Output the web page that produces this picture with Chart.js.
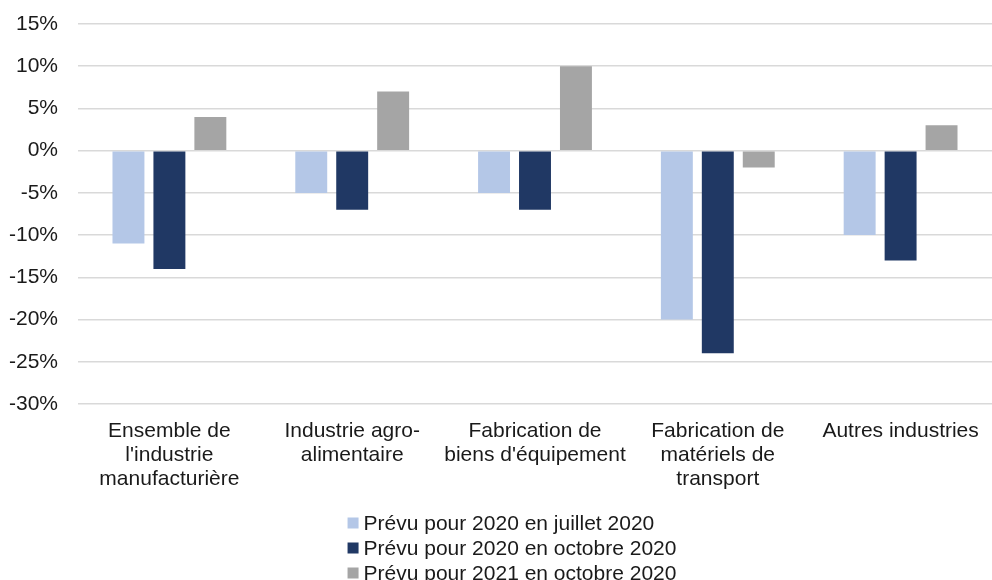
<!DOCTYPE html>
<html>
<head>
<meta charset="utf-8">
<script src="https://cdn.jsdelivr.net/npm/chart.js@4/dist/chart.umd.min.js"></script>
<style>
  html, body { margin: 0; padding: 0; background: #fff; }
  #wrap { width: 992px; height: 580px; position: relative; }
</style>
</head>
<body>
<div id="wrap"><canvas id="barChart"></canvas></div>
<script>
// categories (multi-line labels as in the source)
var categories = [
    ['Ensemble de', "l'industrie", 'manufacturière'],
    ['Industrie agro-', 'alimentaire'],
    ['Fabrication de', "biens d'équipement"],
    ['Fabrication de', 'matériels de', 'transport'],
    ['Autres industries']
];
var seriesNames = [
    'Prévu pour 2020 en juillet 2020',
    'Prévu pour 2020 en octobre 2020',
    'Prévu pour 2021 en octobre 2020'
];
var juillet2020 = [-11, -5, -5, -20, -10];
var octobre2020 = [-14, -7, -7, -24, -13];
var octobre2021 = [4, 7, 10, -2, 3];
var colors = ['#B4C7E7', '#203864', '#A5A5A5'];

var FONT = '"Liberation Sans", Arial, sans-serif';

// vertical legend drawn under the axis
var stackedLegend = {
    id: 'stackedLegend',
    afterDraw: function (chart) {
        var c = chart.ctx;
        var sets = chart.data.datasets;
        c.save();
        c.font = '21px ' + FONT;
        var maxW = 0;
        sets.forEach(function (d) { maxW = Math.max(maxW, c.measureText(d.label).width); });
        var box = 11, gap = 5;
        var left = 512 - (box + gap + maxW) / 2;
        var y0 = 523, lh = 25;
        c.textBaseline = 'middle';
        c.textAlign = 'left';
        sets.forEach(function (d, i) {
            var y = y0 + i * lh;
            c.fillStyle = d.backgroundColor;
            c.fillRect(left, y - box / 2, box, box);
            c.fillStyle = '#1a1a1a';
            c.fillText(d.label, left + box + gap, y + 1);
        });
        c.restore();
    }
};

var ctx = document.getElementById('barChart').getContext('2d');
var myChart = new Chart(ctx, {
    type: 'bar',
    data: {
        labels: categories,
        datasets: [
            { label: seriesNames[0], data: juillet2020, backgroundColor: colors[0] },
            { label: seriesNames[1], data: octobre2020, backgroundColor: colors[1] },
            { label: seriesNames[2], data: octobre2021, backgroundColor: colors[2] }
        ]
    },
    options: {
        responsive: true,
        maintainAspectRatio: false,
        animation: false,
        categoryPercentage: 0.672,
        barPercentage: 0.78,
        layout: { padding: { top: 24, right: 0, left: 0, bottom: 0 } },
        plugins: {
            legend: { display: false },
            tooltip: { enabled: false }
        },
        scales: {
            x: {
                grid: { display: false },
                border: { display: false },
                ticks: {
                    color: '#1a1a1a',
                    font: { family: FONT, size: 21, lineHeight: 1.15 },
                    padding: 7,
                    maxRotation: 0,
                    autoSkip: false
                },
                afterFit: function (scale) { scale.height = 176; }
            },
            y: {
                min: -30,
                max: 15,
                grid: { color: '#D9D9D9', lineWidth: 1.5, drawTicks: false },
                border: { display: false },
                ticks: {
                    stepSize: 5,
                    color: '#1a1a1a',
                    font: { family: FONT, size: 21 },
                    padding: 20,
                    callback: function (v) { return v + '%'; }
                },
                afterFit: function (scale) {
                    scale.width = 78;
                    scale.paddingTop = 0;
                    scale.paddingBottom = 0;
                }
            }
        }
    },
    plugins: [stackedLegend]
});
</script>
</body>
</html>
